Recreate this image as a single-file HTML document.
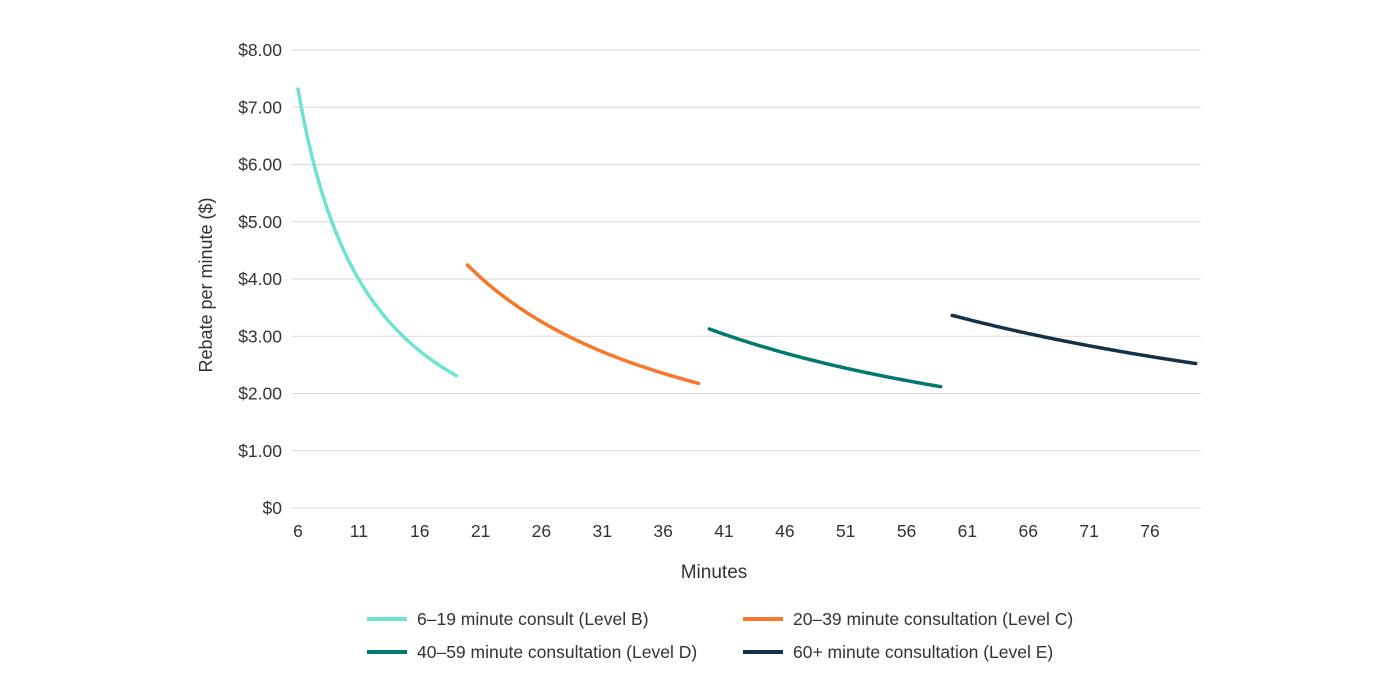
<!DOCTYPE html>
<html><head><meta charset="utf-8"><style>
html,body{margin:0;padding:0;background:#fff;}
svg{display:block;font-family:"Liberation Sans",Arial,sans-serif;}
</style></head><body>
<svg id="c" width="1400" height="700" viewBox="0 0 1400 700" xmlns="http://www.w3.org/2000/svg">
<g id="grid" stroke="#d9d9d9" stroke-width="1"></g>
<g id="ylab" font-size="17.5" fill="#333" text-anchor="end"></g>
<g id="xlab" font-size="17.5" fill="#333" text-anchor="middle"></g>
<text x="212" y="285" font-size="18" fill="#333" text-anchor="middle" transform="rotate(-90 212 285)">Rebate per minute ($)</text>
<text x="714" y="578" font-size="19" fill="#333" text-anchor="middle">Minutes</text>
<g id="series" fill="none" stroke-width="3.5" stroke-linecap="round"></g>
<g font-size="17.5" fill="#333">
<line x1="367" y1="619" x2="407" y2="619" stroke="#6fe3d1" stroke-width="4"/>
<text x="417" y="625">6–19 minute consult (Level B)</text>
<line x1="743" y1="619" x2="783" y2="619" stroke="#f7782a" stroke-width="4"/>
<text x="793" y="625">20–39 minute consultation (Level C)</text>
<line x1="367" y1="652" x2="407" y2="652" stroke="#007a6e" stroke-width="4"/>
<text x="417" y="658">40–59 minute consultation (Level D)</text>
<line x1="743" y1="652" x2="783" y2="652" stroke="#13324a" stroke-width="4"/>
<text x="793" y="658">60+ minute consultation (Level E)</text>
</g>
</svg>
<script>
var NS="http://www.w3.org/2000/svg";
function X(m){return 298+(m-6)*12.171;}
function Y(v){return 508-v*57.25;}
function el(p,t,a,txt){var e=document.createElementNS(NS,t);for(var k in a)e.setAttribute(k,a[k]);if(txt!=null)e.textContent=txt;document.getElementById(p).appendChild(e);}
for(var i=0;i<=8;i++){var y=Y(i);el("grid","line",{x1:292,x2:1201,y1:y,y2:y});
el("ylab","text",{x:282,y:y+6},i==0?"$0":"$"+i+".00");}
for(var m=6;m<=76;m+=5){el("xlab","text",{x:X(m),y:537},m);}
var S=[[43.9,6,19,"#6fe3d1",0],[84.9,20,39,"#f7782a",-1],[125.1,40,59,"#007a6e",-2.5],[201.9,60,80,"#13324a",-3]];
S.forEach(function(s){var d="";for(var m=s[1];m<=s[2]+1e-9;m+=0.1){d+=(d?"L":"M")+(X(m)+s[4]).toFixed(1)+","+Y(s[0]/m).toFixed(1);}
el("series","path",{d:d,stroke:s[3]});});
</script>
</body></html>
